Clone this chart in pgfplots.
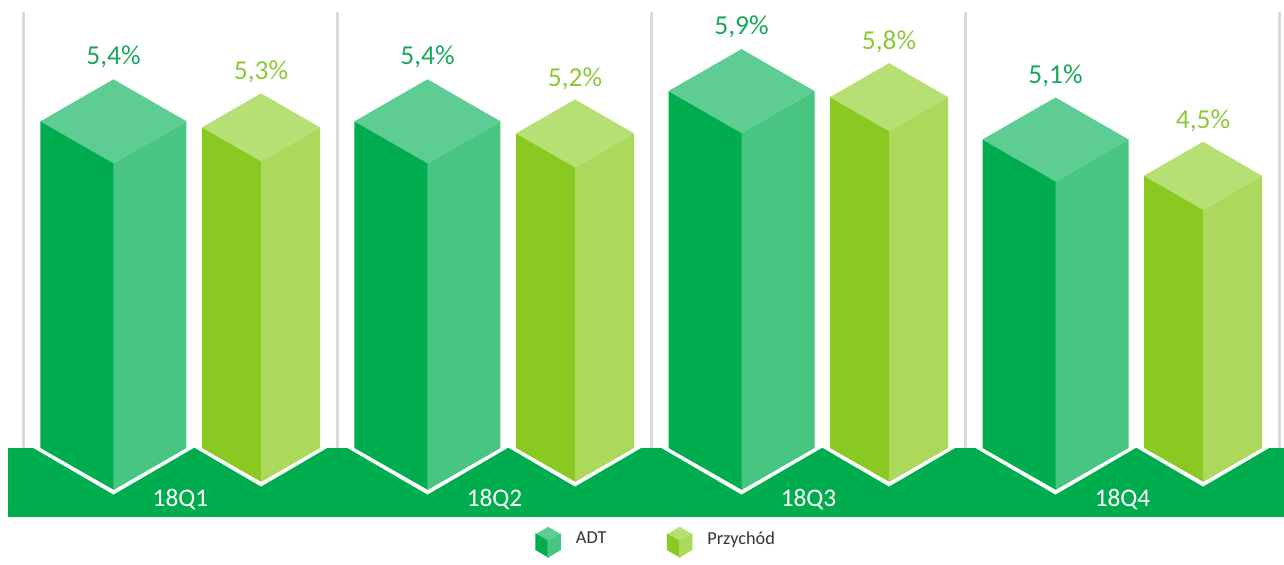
\documentclass[border=0pt]{standalone}
\usepackage{pgfplots}
\usepackage{pgfplotstable}
\pgfplotsset{compat=1.18}
\usepackage{fontspec}
\setmainfont{Carlito}
\definecolor{adtL}{RGB}{0,173,78}
\definecolor{adtR}{RGB}{72,197,128}
\definecolor{adtT}{RGB}{94,205,147}
\definecolor{prL}{RGB}{138,201,34}
\definecolor{prR}{RGB}{172,217,92}
\definecolor{prT}{RGB}{182,223,116}
\definecolor{band}{RGB}{0,173,78}
\definecolor{adtTxt}{RGB}{24,168,92}
\definecolor{prTxt}{RGB}{141,200,55}
\definecolor{sep}{RGB}{217,217,217}

\newcommand\prismmark[5]{%
  \pgfmathsetlengthmacro\prH{\rawy*0.605cm}%
  \pgfmathsetlengthmacro\prW{#1}%
  \pgfmathsetlengthmacro\prD{#2}%
  % white V outline under the bar
  \pgfpathmoveto{\pgfpoint{-\prW-0.07cm}{-\prH}}%
  \pgfpathlineto{\pgfpoint{0pt}{-\prH-\prD-0.045cm}}%
  \pgfpathlineto{\pgfpoint{\prW+0.07cm}{-\prH}}%
  \pgfpathclose
  \pgfsetfillcolor{white}\pgfusepath{fill}%
  % left face
  \pgfpathmoveto{\pgfpoint{-\prW}{0pt}}%
  \pgfpathlineto{\pgfpoint{0.2pt}{-\prD}}%
  \pgfpathlineto{\pgfpoint{0.2pt}{-\prH-\prD}}%
  \pgfpathlineto{\pgfpoint{-\prW}{-\prH}}%
  \pgfpathclose
  \pgfsetfillcolor{#3}\pgfusepath{fill}%
  % right face
  \pgfpathmoveto{\pgfpoint{0pt}{-\prD}}%
  \pgfpathlineto{\pgfpoint{\prW}{0pt}}%
  \pgfpathlineto{\pgfpoint{\prW}{-\prH}}%
  \pgfpathlineto{\pgfpoint{0pt}{-\prH-\prD}}%
  \pgfpathclose
  \pgfsetfillcolor{#4}\pgfusepath{fill}%
  % top
  \pgfpathmoveto{\pgfpoint{-\prW}{0pt}}%
  \pgfpathlineto{\pgfpoint{0pt}{\prD}}%
  \pgfpathlineto{\pgfpoint{\prW}{0pt}}%
  \pgfpathlineto{\pgfpoint{0pt}{-\prD}}%
  \pgfpathclose
  \pgfsetfillcolor{#5}\pgfusepath{fill}%
}
\pgfdeclareplotmark{adtprism}{\prismmark{0.73cm}{0.42cm}{adtL}{adtR}{adtT}}
\pgfdeclareplotmark{prprism}{\prismmark{0.59cm}{0.34cm}{prL}{prR}{prT}}

\newcommand\cubeicon[3]{%
  \fill[#3] (0cm,0.06cm) -- (0.12cm,0.13cm) -- (0.24cm,0.06cm) -- (0.12cm,-0.01cm) -- cycle;
  \fill[#1] (0cm,0.06cm) -- (0.12cm,-0.01cm) -- (0.12cm,-0.16cm) -- (0cm,-0.09cm) -- cycle;
  \fill[#2] (0.12cm,-0.01cm) -- (0.24cm,0.06cm) -- (0.24cm,-0.09cm) -- (0.12cm,-0.16cm) -- cycle;
}

\pgfplotstableread{
x adt prz
1 5.4 5.3
2 5.4 5.2
3 5.9 5.8
4 5.1 4.5
}\data

\begin{document}
\begin{tikzpicture}
\begin{axis}[
  x=3.14cm, y=0.605cm,
  xmin=0.4252, xmax=4.5143,
  ymin=-1.7521, ymax=7.405,
  axis on top=true,
  axis line style={draw=none},
  tick style={draw=none},
  ytick=\empty,
  xtick={1,2,3,4},
  xticklabels={18Q1,18Q2,18Q3,18Q4},
  xticklabel style={text=white, font=\fontsize{7.2}{8}\selectfont, anchor=center, yshift=0.54cm},
  legend columns=2,
  legend style={at={(rel axis cs:0.513,0.0235)}, anchor=center, draw=none, fill=none,
    font=\fontsize{5.2}{6}\selectfont, text=black!80,
    /tikz/every odd column/.append style={column sep=0.08cm},
    /tikz/every even column/.append style={column sep=0.535cm}},
]
% separators
\addplot[ycomb, draw=sep, line width=0.6pt, no markers, forget plot]
  coordinates {(0.5,7.207) (1.5,7.207) (2.5,7.207) (3.5,7.207) (4.5,7.207)};
% green band
\addplot[fill=band, draw=none, forget plot]
  coordinates {(0.4507,0) (4.6,0) (4.6,-1.1405) (0.4507,-1.1405)} -- cycle;
% ADT prisms
\addplot[scatter, only marks, mark=adtprism,
  visualization depends on={y \as \rawy},
  x filter/.expression={x-0.2134},
  legend image code/.code={\cubeicon{adtL}{adtR}{adtT}}] table[x=x, y=adt]{\data};
\addlegendentry{ADT}
% Przychod prisms
\addplot[scatter, only marks, mark=prprism,
  visualization depends on={y \as \rawy},
  x filter/.expression={x+0.2564},
  legend image code/.code={\cubeicon{prL}{prR}{prT}}] table[x=x, y=prz]{\data};
\addlegendentry{Przychód}
% value labels
\addplot[draw=none, no markers, forget plot,
  x filter/.expression={x-0.2134},
  nodes near coords={\pgfmathprintnumber[fixed,fixed zerofill,precision=1,use comma,assume math mode=true]{\pgfplotspointmeta}\%},
  every node near coord/.append style={text=adtTxt, font=\fontsize{7.8}{9}\selectfont, anchor=center, yshift=0.64cm}]
  table[x=x, y=adt]{\data};
\addplot[draw=none, no markers, forget plot,
  x filter/.expression={x+0.2564},
  nodes near coords={\pgfmathprintnumber[fixed,fixed zerofill,precision=1,use comma,assume math mode=true]{\pgfplotspointmeta}\%},
  every node near coord/.append style={text=prTxt, font=\fontsize{7.8}{9}\selectfont, anchor=center, yshift=0.55cm}]
  table[x=x, y=prz]{\data};
\end{axis}
\end{tikzpicture}
\end{document}
